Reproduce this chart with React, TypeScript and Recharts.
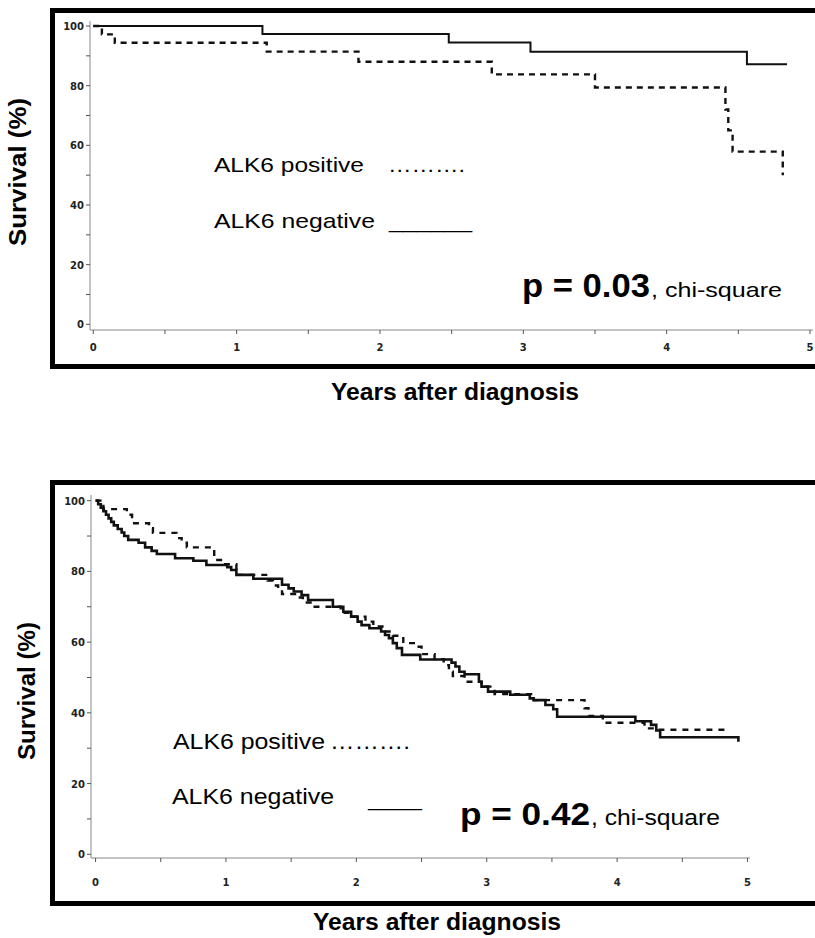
import React from 'react'
import { LineChart, Line, XAxis, YAxis } from 'recharts'

// panel A (top): years after diagnosis vs survival %
const topNegT = [0, 1.18, 2.48, 3.05, 4.56, 4.84]
const topNegS = [100, 97.3, 94.5, 91.4, 87.2, 87.2]
const topPosT = [0, 0.06, 0.15, 1.21, 1.85, 2.78, 3.5, 4.41, 4.43, 4.46, 4.81]
const topPosS = [100, 97.2, 94.4, 91.4, 88.0, 83.8, 79.4, 72.0, 65.0, 57.9, 50.0]

// panel B (bottom)
const botNegT = [0, 0.02, 0.04, 0.06, 0.08, 0.1, 0.12, 0.14, 0.17, 0.2, 0.22, 0.25, 0.33, 0.38, 0.43, 0.47, 0.61, 0.75, 0.85, 1.01, 1.04, 1.08, 1.21, 1.43, 1.48, 1.52, 1.58, 1.63, 1.82, 1.9, 1.96, 2.01, 2.04, 2.1, 2.19, 2.22, 2.25, 2.28, 2.31, 2.35, 2.49, 2.73, 2.76, 2.79, 2.83, 2.94, 2.96, 3.01, 3.18, 3.33, 3.36, 3.45, 3.51, 3.54, 4.14, 4.26, 4.3, 4.33, 4.93]
const botNegS = [100, 99, 98, 97, 96, 95, 94, 93, 92, 91, 90, 88.9, 88.1, 86.8, 85.8, 84.9, 83.7, 83.0, 81.8, 81.2, 80.4, 79.0, 77.9, 76.2, 75.2, 74.3, 73.3, 71.9, 70.0, 68.6, 67.2, 65.8, 64.8, 63.9, 63.0, 62.0, 61.1, 59.7, 58.3, 56.4, 55.1, 54.2, 53.1, 51.6, 50.9, 48.8, 47.4, 46.0, 45.1, 44.1, 43.6, 42.2, 41.0, 38.9, 37.6, 36.6, 35.0, 33.1, 31.8]
const botPosT = [0, 0.06, 0.24, 0.28, 0.41, 0.44, 0.62, 0.66, 0.7, 0.91, 0.98, 1.08, 1.32, 1.36, 1.4, 1.43, 1.55, 1.59, 1.67, 1.88, 1.96, 2.07, 2.13, 2.2, 2.28, 2.36, 2.39, 2.46, 2.5, 2.6, 2.67, 2.71, 2.74, 2.83, 2.96, 3.06, 3.34, 3.36, 3.75, 3.78, 3.89, 4.21, 4.29, 4.84]
const botPosS = [100, 97.6, 96.0, 93.6, 92.2, 90.9, 89.4, 88.1, 86.8, 83.2, 82.0, 79.0, 77.4, 76.0, 74.8, 73.6, 72.6, 71.2, 70.0, 68.3, 67.2, 65.8, 64.4, 63.0, 61.8, 60.1, 59.7, 58.7, 56.6, 55.2, 53.5, 51.6, 50.4, 48.8, 47.4, 45.3, 44.6, 43.6, 41.3, 39.1, 37.2, 35.6, 35.2, 34.2]

const yearTicks = [0, 0.5, 1, 1.5, 2, 2.5, 3, 3.5, 4, 4.5, 5]
const yearLabels = ['0', '1', '2', '3', '4', '5']
const survTicks = [0, 10, 20, 30, 40, 50, 60, 70, 80, 90, 100]
const survLabels = ['0', '20', '40', '60', '80', '100']

const FONT = '"Liberation Sans", Arial, Helvetica, sans-serif'
const TICK_FONT = '"DejaVu Sans", sans-serif'
const AXIS = '#888'

const toRows = (t: number[], s: number[]) => t.map((v, i) => ({ t: v, s: s[i] }))

const makeXTick = (dy: number) => (props: any) => {
  const { x, y, payload } = props
  const lab = yearLabels.find((l) => Number(l) === payload.value)
  if (lab === undefined) return <g />
  return (
    <text x={x} y={y} dy={dy} textAnchor="middle" fontFamily={TICK_FONT} fontWeight="bold" fontSize={10} fill="#222">
      {lab}
    </text>
  )
}

const YTick = (props: any) => {
  const { x, y, payload } = props
  const lab = survLabels.find((l) => Number(l) === payload.value)
  if (lab === undefined) return <g />
  return (
    <text x={x} y={y} dy={4} textAnchor="end" fontFamily={TICK_FONT} fontWeight="bold" fontSize={10} fill="#222">
      {lab}
    </text>
  )
}

interface PanelProps {
  top: number
  height: number
  margin: { top: number; right: number; bottom: number; left: number }
  xDomain: [number, number]
  yDomain: [number, number]
  xTickDy: number
  neg: { t: number; s: number }[]
  pos: { t: number; s: number }[]
  solidW: number
  dash: string
}

function Panel(p: PanelProps) {
  return (
    <div style={{ position: 'absolute', left: 0, top: p.top }}>
      <LineChart width={815} height={p.height} margin={p.margin}>
        <XAxis
          dataKey="t"
          type="number"
          domain={p.xDomain}
          ticks={yearTicks}
          allowDataOverflow
          height={32}
          tickSize={4}
          axisLine={{ stroke: AXIS }}
          tickLine={{ stroke: '#555' }}
          tick={makeXTick(p.xTickDy)}
        />
        <XAxis xAxisId="box" orientation="top" type="number" domain={p.xDomain} allowDataOverflow height={0} tick={false} tickLine={false} axisLine={{ stroke: '#bbb' }} />
        <YAxis
          type="number"
          domain={p.yDomain}
          ticks={survTicks}
          allowDataOverflow
          width={40}
          tickSize={4}
          axisLine={{ stroke: AXIS }}
          tickLine={{ stroke: '#555' }}
          tick={YTick}
        />
        <YAxis yAxisId="box" orientation="right" type="number" domain={p.yDomain} allowDataOverflow width={0} tick={false} tickLine={false} axisLine={{ stroke: '#aaa' }} />
        <Line data={p.pos} dataKey="s" type="stepAfter" stroke="#111" strokeWidth={2.4} strokeDasharray={p.dash} dot={false} isAnimationActive={false} />
        <Line data={p.neg} dataKey="s" type="stepAfter" stroke="#111" strokeWidth={p.solidW} dot={false} isAnimationActive={false} />
      </LineChart>
    </div>
  )
}

const frame = (left: number, top: number, height: number): React.CSSProperties => ({
  position: 'absolute',
  left,
  top,
  width: 820,
  height,
  border: '5px solid #000',
  boxSizing: 'border-box',
})

export default function App() {
  return (
    <div style={{ position: 'absolute', left: 0, top: 0, width: 815, height: 938, overflow: 'hidden', background: '#fff' }}>
      <div style={frame(50, 8, 361)} />
      <div style={frame(50, 480, 426)} />

      <Panel
        top={0}
        height={362}
        margin={{ top: 21, right: 2, bottom: 0, left: 50 }}
        xDomain={[-0.023, 5.021]}
        yDomain={[-1.91, 101.68]}
        xTickDy={15}
        neg={toRows(topNegT, topNegS)}
        pos={toRows(topPosT, topPosS)}
        solidW={2}
        dash="6 5"
      />
      <Panel
        top={470}
        height={420}
        margin={{ top: 25, right: 65, bottom: 0, left: 51 }}
        xDomain={[-0.035, 5.019]}
        yDomain={[-1.05, 101.6]}
        xTickDy={22}
        neg={toRows(botNegT, botNegS)}
        pos={toRows(botPosT, botPosS)}
        solidW={2.6}
        dash="6 6"
      />

      <svg width={815} height={938} style={{ position: 'absolute', left: 0, top: 0, pointerEvents: 'none' }} fontFamily={FONT} fill="#000">
        {/* top panel annotations */}
        <text x={214} y={172} fontSize={21} textLength={150} lengthAdjust="spacingAndGlyphs">ALK6 positive</text>
        <text x={388} y={172} fontSize={21} textLength={77} lengthAdjust="spacingAndGlyphs">……….</text>
        <text x={214} y={228} fontSize={21} textLength={161} lengthAdjust="spacingAndGlyphs">ALK6 negative</text>
        <text x={389} y={228} fontSize={21} textLength={83} lengthAdjust="spacingAndGlyphs">______</text>
        <text x={522} y={297} fontSize={33} fontWeight="bold" textLength={128} lengthAdjust="spacingAndGlyphs">p = 0.03</text>
        <text x={651} y={297} fontSize={21} textLength={131} lengthAdjust="spacingAndGlyphs">, chi-square</text>
        <text x={455} y={400} fontSize={23} fontWeight="bold" textAnchor="middle" textLength={248} lengthAdjust="spacingAndGlyphs">Years after diagnosis</text>
        <text transform="translate(26,172) rotate(-90)" fontSize={23} fontWeight="bold" textAnchor="middle" textLength={148} lengthAdjust="spacingAndGlyphs">Survival (%)</text>

        {/* bottom panel annotations */}
        <text x={173} y={749} fontSize={22} textLength={152} lengthAdjust="spacingAndGlyphs">ALK6 positive</text>
        <text x={330} y={749} fontSize={22} textLength={80} lengthAdjust="spacingAndGlyphs">……….</text>
        <text x={172} y={804} fontSize={22} textLength={162} lengthAdjust="spacingAndGlyphs">ALK6 negative</text>
        <text x={368} y={806} fontSize={22} textLength={54} lengthAdjust="spacingAndGlyphs">______</text>
        <text x={460} y={825} fontSize={31} fontWeight="bold" textLength={130} lengthAdjust="spacingAndGlyphs">p = 0.42</text>
        <text x={591} y={825} fontSize={22} textLength={129} lengthAdjust="spacingAndGlyphs">, chi-square</text>
        <text x={437} y={930} fontSize={23} fontWeight="bold" textAnchor="middle" textLength={248} lengthAdjust="spacingAndGlyphs">Years after diagnosis</text>
        <text transform="translate(35,691) rotate(-90)" fontSize={23} fontWeight="bold" textAnchor="middle" textLength={138} lengthAdjust="spacingAndGlyphs">Survival (%)</text>
      </svg>
    </div>
  )
}
